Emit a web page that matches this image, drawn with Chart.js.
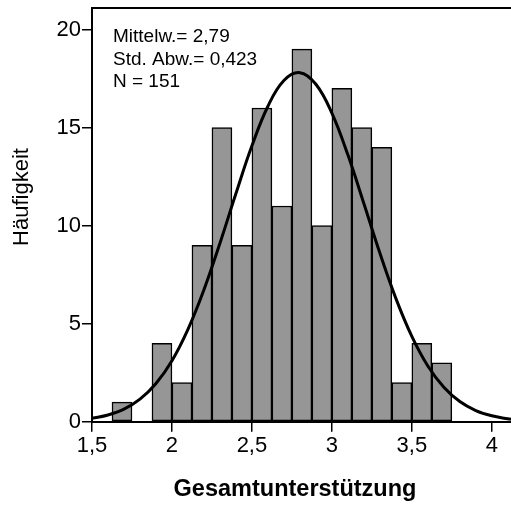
<!DOCTYPE html>
<html>
<head>
<meta charset="utf-8">
<script src="https://cdn.jsdelivr.net/npm/chart.js@4/dist/chart.umd.min.js"></script>
<style>
html,body{margin:0;padding:0;background:#fff;}
#wrap{width:511px;height:507px;position:relative;}
</style>
</head>
<body>
<div id="wrap"><canvas id="c"></canvas></div>
<script>
// Histogram bins (centers, width 0.125) and counts
const binCenters = [1.6875,1.8125,1.9375,2.0625,2.1875,2.3125,2.4375,2.5625,2.6875,2.8125,2.9375,3.0625,3.1875,3.3125,3.4375,3.5625,3.6875];
const binCounts  = [1,0,4,2,9,15,9,16,11,19,10,17,15,14,2,4,3];
// Normal curve
const curveX = [1.5,1.6,1.7,1.8,1.9,2.0,2.1,2.2,2.3,2.4,2.5,2.6,2.7,2.8,2.9,3.0,3.1,3.2,3.3,3.4,3.5,3.6,3.7,3.8,3.9,4.0,4.1,4.12];
const curveY = [0.17,0.34,0.64,1.15,1.95,3.11,4.71,6.73,9.10,11.64,14.07,16.09,17.40,17.80,17.21,15.74,13.61,11.13,8.60,6.29,4.35,2.84,1.76,1.03,0.57,0.30,0.15,0.13];
const xTicks = [1.5,2,2.5,3,3.5,4];
const yTicks = [0,5,10,15,20];
const statsLines = ["Mittelw.= 2,79","Std. Abw.= 0,423","N = 151"];
const xTitle = "Gesamtunterstützung";
const yTitle = "Häufigkeit";

const FONT = "'Liberation Sans', Arial, sans-serif";

const extras = {
  id:'extras',
  afterDatasetsDraw(chart){
    const ctx = chart.ctx, a = chart.chartArea;
    ctx.save();
    // top frame line
    ctx.strokeStyle='#000'; ctx.lineWidth=2;
    ctx.beginPath(); ctx.moveTo(a.left-1,a.top); ctx.lineTo(a.right,a.top); ctx.stroke();
    // stats text
    ctx.fillStyle='#000';
    ctx.font = "19px " + FONT;
    ctx.textAlign='left'; ctx.textBaseline='middle';
    statsLines.forEach((s,i)=>ctx.fillText(s, 113, 37 + i*22.5));
    // axis titles
    ctx.font = "bold 23.5px " + FONT;
    ctx.textAlign='center'; ctx.textBaseline='middle';
    ctx.fillText(xTitle, 295, 490);
    ctx.translate(22,197); ctx.rotate(-Math.PI/2);
    ctx.font = "22px " + FONT;
    ctx.fillText(yTitle, 0, 0);
    ctx.restore();
  }
};

new Chart(document.getElementById('c'), {
  type:'bar',
  data:{
    datasets:[
      {
        type:'line',
        data: curveX.map((x,i)=>({x:x,y:curveY[i]})),
        borderColor:'#000', borderWidth:3, pointRadius:0, tension:0.4, fill:false, order:0
      },
      {
        type:'bar',
        data: binCenters.map((x,i)=>({x:x,y:binCounts[i]})),
        backgroundColor:'#969696', borderColor:'#000', borderWidth:1.5,
        barPercentage:1, categoryPercentage:1, borderSkipped:false, order:1
      }
    ]
  },
  options:{
    responsive:true, maintainAspectRatio:false, animation:false,
    layout:{padding:{top:8,right:0,left:0,bottom:0}, autoPadding:false},
    plugins:{legend:{display:false}, tooltip:{enabled:false}},
    scales:{
      x:{
        type:'linear', min:1.5, max:4.12, offset:false,
        afterBuildTicks(s){ s.ticks = xTicks.map(v=>({value:v})); },
        afterFit(s){ s.height = 85.3; s.paddingLeft = 0; s.paddingRight = 0; },
        grid:{display:true, drawOnChartArea:false, drawTicks:true, tickLength:10, color:'#000', lineWidth:1.5, offset:false},
        border:{display:true, color:'#000', width:2},
        ticks:{color:'#000', font:{family:FONT,size:22}, padding:1, maxRotation:0, autoSkip:false,
          callback:v=>String(v).replace('.',',')}
      },
      y:{
        type:'linear', min:0, max:21.1,
        afterBuildTicks(s){ s.ticks = yTicks.map(v=>({value:v})); },
        afterFit(s){ s.width = 92; s.paddingTop = 0; s.paddingBottom = 0; },
        grid:{display:true, drawOnChartArea:false, drawTicks:true, tickLength:10, color:'#000', lineWidth:1.5},
        border:{display:true, color:'#000', width:2},
        ticks:{color:'#000', font:{family:FONT,size:22}, padding:1, autoSkip:false,
          callback:v=>String(v)}
      }
    }
  },
  plugins:[extras]
});
</script>
</body>
</html>
